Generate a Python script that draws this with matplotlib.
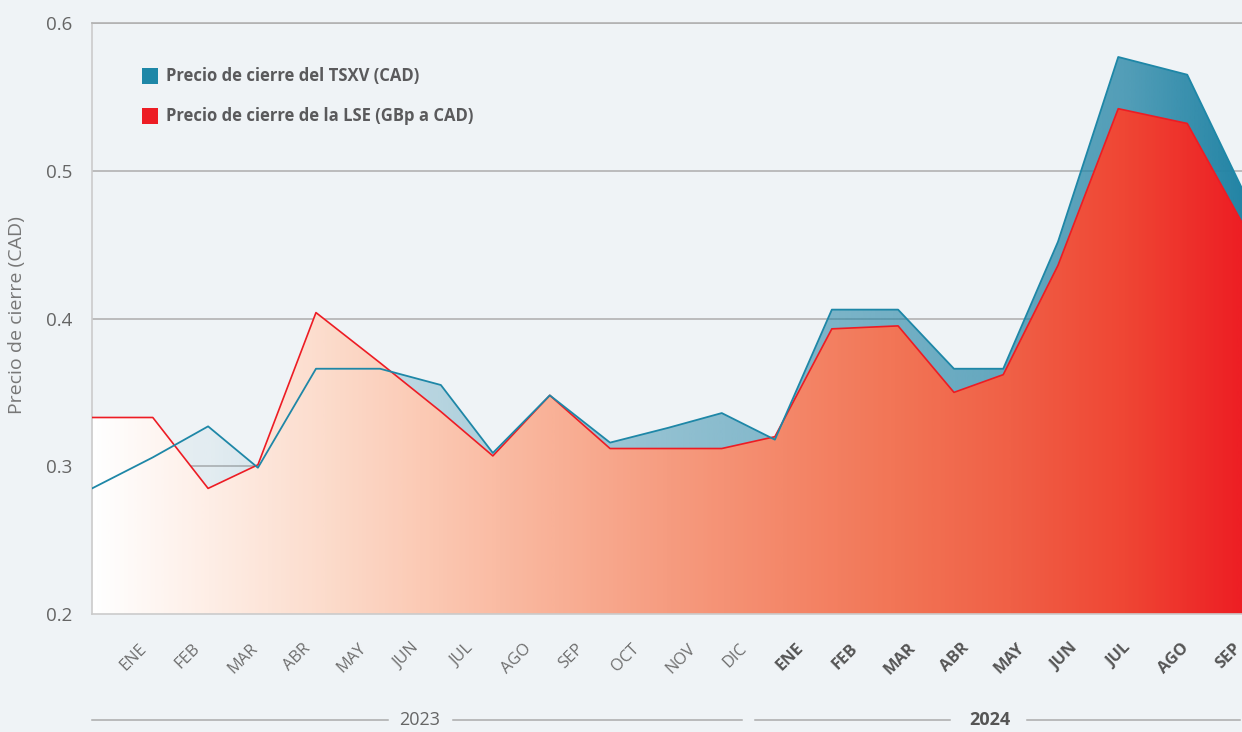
import numpy as np
import matplotlib
matplotlib.use("Agg")
import matplotlib.pyplot as plt
from matplotlib.colors import LinearSegmentedColormap, to_rgb
from matplotlib.patches import Polygon, Rectangle
from matplotlib import font_manager

# ---------------- datos ----------------
# posicion de cada cierre (en "meses" desde el borde izquierdo)
x_pos = [0, 1.11, 2.12, 3.03, 4.09, 5.26, 6.37, 7.32, 8.36, 9.46, 10.52,
         11.5, 12.47, 13.51, 14.72, 15.74, 16.64, 17.64, 18.74, 20.0, 21.0]
tsxv = [0.285, 0.306, 0.327, 0.299, 0.366, 0.366, 0.355, 0.309, 0.348, 0.316, 0.326,
        0.336, 0.318, 0.406, 0.406, 0.366, 0.366, 0.452, 0.577, 0.565, 0.488]
lse = [0.333, 0.333, 0.285, 0.301, 0.404, 0.370, 0.337, 0.307, 0.348, 0.312, 0.312,
       0.312, 0.320, 0.393, 0.395, 0.350, 0.362, 0.436, 0.542, 0.532, 0.465]
meses_2023 = ["ENE", "FEB", "MAR", "ABR", "MAY", "JUN", "JUL", "AGO", "SEP", "OCT", "NOV", "DIC"]
meses_2024 = ["ENE", "FEB", "MAR", "ABR", "MAY", "JUN", "JUL", "AGO", "SEP"]
y_ticks = [0.2, 0.3, 0.4, 0.5, 0.6]
leyenda = ["Precio de cierre del TSXV (CAD)", "Precio de cierre de la LSE (GBp a CAD)"]

# ---------------- estilo ----------------
BG = "#eff3f6"
TEAL = "#1e87a7"
RED = "#ed1c24"
GRIS = "#656565"

names = {f.name for f in font_manager.fontManager.ttflist}
FONT = "Open Sans" if "Open Sans" in names else "DejaVu Sans"
NARROW = "Liberation Sans Narrow" if "Liberation Sans Narrow" in names else FONT
plt.rcParams["font.family"] = [FONT, "DejaVu Sans"]

W, H = 1242, 732
fig = plt.figure(figsize=(W / 100, H / 100), dpi=100, facecolor=BG)
ax = fig.add_axes([92 / W, (H - 614) / H, 1150 / W, 591 / H])
ax.set_facecolor(BG)

x0, x1, y0, y1 = 0, 21, 0.2, 0.6

# area azul (TSXV) con degradado de transparencia
alpha_pts = [0.0, 0.1, 0.28, 0.5, 0.7, 0.9, 1.0]
alpha_val = [0.02, 0.06, 0.26, 0.46, 0.61, 0.77, 1.0]
xs = np.linspace(0, 1, 600)
blue_img = np.zeros((1, xs.size, 4))
blue_img[0, :, :3] = to_rgb("#2384a5")
blue_img[0, :, 3] = np.interp(xs, alpha_pts, alpha_val)
poly_b = Polygon([(x0, y0)] + list(zip(x_pos, tsxv)) + [(x1, y0)], closed=True,
                 facecolor="none", edgecolor="none")
ax.add_patch(poly_b)
im_b = ax.imshow(blue_img, extent=[x0, x1, y0, y1], aspect="auto", zorder=1,
                 interpolation="bilinear")
im_b.set_clip_path(poly_b)

# area roja (LSE) con degradado
red_cmap = LinearSegmentedColormap.from_list("lse", [
    (0.0, "#ffffff"), (0.1, "#feeee6"), (0.2, "#fcdccc"), (0.3, "#fbc7b1"),
    (0.4, "#f9b197"), (0.5, "#f69c80"), (0.6, "#f4886a"), (0.7, "#f27556"),
    (0.8, "#f06046"), (0.9, "#ef4634"), (1.0, "#ed1f24")])
poly_r = Polygon([(x0, y0)] + list(zip(x_pos, lse)) + [(x1, y0)], closed=True,
                 facecolor="none", edgecolor="none")
ax.add_patch(poly_r)
im_r = ax.imshow(xs.reshape(1, -1), cmap=red_cmap, extent=[x0, x1, y0, y1],
                 aspect="auto", zorder=2, interpolation="bilinear")
im_r.set_clip_path(poly_r)

ax.plot(x_pos, lse, color=RED, lw=1.2, zorder=3)
ax.plot(x_pos, tsxv, color=TEAL, lw=1.3, zorder=4)

ax.set_xlim(x0, x1)
ax.set_ylim(y0, y1)

# ejes
ax.set_yticks(y_ticks, labels=[f"{v:.1f}" for v in y_ticks])
ax.tick_params(axis="y", length=0, pad=14, labelsize=13.5, labelcolor=GRIS)
ax.grid(axis="y", color="#b2b2b2", lw=1.2, zorder=0.5)
ax.set_axisbelow(True)
ax.spines["right"].set_visible(False)
ax.spines["top"].set_color("#b2b2b2")
ax.spines["top"].set_linewidth(1.2)
for s in ["left", "bottom"]:
    ax.spines[s].set_color("#cbcbcb")
    ax.spines[s].set_linewidth(1.2)

meses = meses_2023 + meses_2024
ax.set_xticks(np.arange(len(meses)) + 0.75, labels=meses)
ax.tick_params(axis="x", length=0, pad=19)
for i, lab in enumerate(ax.get_xticklabels()):
    lab.set_rotation(45)
    lab.set_ha("center")
    lab.set_fontsize(11.8)
    if i < len(meses_2023):
        lab.set_color("#6e6e6e")
    else:
        lab.set_color("#555555")
        lab.set_fontweight("bold")

# lineas de año
tr = ax.get_xaxis_transform()
yy = -(720 - 614) / 591
for a, b in [(0, 5.41), (6.59, 11.87), (12.11, 15.67), (17.07, 20.96)]:
    ax.plot([a, b], [yy, yy], color="#ababab", lw=1.1, transform=tr, clip_on=False)
ax.text(5.99, yy, "2023", transform=tr, ha="center", va="center", fontsize=13, color=GRIS)
ax.text(16.4, yy, "2024", transform=tr, ha="center", va="center", fontsize=13,
        color="#555555", fontweight="bold")

fig.text(17.5 / W, 1 - 315 / H, "Precio de cierre (CAD)", rotation=90, ha="center",
         va="center", fontsize=14, color="#777777")

# leyenda
for k, (txt, col) in enumerate(zip(leyenda, [TEAL, RED])):
    yc = 76 + 40 * k
    fig.add_artist(Rectangle((142 / W, 1 - (yc + 8) / H), 16 / W, 16 / H,
                             transform=fig.transFigure, facecolor=col, edgecolor="none"))
    fig.text(166 / W, 1 - yc / H, txt, ha="left", va="center", fontsize=12,
             fontweight="bold", color="#5a5a5c", family=[NARROW, "DejaVu Sans"])

fig.savefig("out.png", dpi=100, facecolor=BG)
